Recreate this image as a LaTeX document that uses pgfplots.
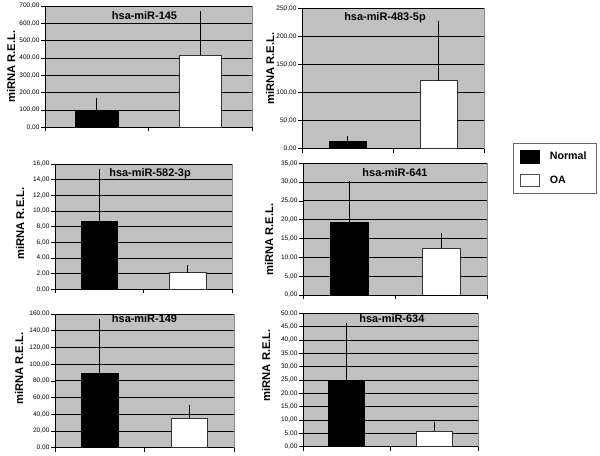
\documentclass[border=0pt]{standalone}
\usepackage{fontspec}
\setmainfont{Liberation Sans}
\usepackage{pgfplots}
\pgfplotsset{compat=1.18}
\definecolor{plotgray}{RGB}{192,192,192}
\pgfplotsset{
  panel/.style={
    scale only axis,
    axis background/.style={fill=plotgray, draw=black!45},
    axis lines*=left,
    axis line style={-, black, line width=0.6pt},
    xmin=0.5, xmax=2.5, ymin=0,
    xtick={0.5,1.5,2.5}, xticklabels={},
    tick align=outside, major tick length=3pt,
    tick style={black, line width=0.5pt},
    ymajorgrids, grid style={black, line width=0.6pt},
    yticklabel style={font=\fontsize{4.9}{6}\selectfont, inner sep=1pt},
    /pgf/number format/.cd, fixed, fixed zerofill, precision=2, use comma, 1000 sep={}, assume math mode=true,
    /pgfplots/.cd,
    every axis y label/.style={at={(axis description cs:0,0.5)}, rotate=90, anchor=center,
      font=\bfseries\fontsize{8.4}{10}\selectfont},
    every axis title/.style={at={(axis description cs:0.5,1)}, anchor=center,
      font=\bfseries\fontsize{8.2}{10}\selectfont},
    ylabel={miRNA R.E.L.},
  },
  nbar/.style={ybar, bar width=0.41, bar shift=0pt, fill=black, draw=black, line width=0.5pt,
    error bars/.cd, y dir=plus, y explicit, error mark=-,
    error bar style={black, line width=0.5pt}, error mark options={black, mark size=1.6pt, line width=0.5pt},
    /pgfplots/.cd},
  obar/.style={ybar, bar width=0.41, bar shift=0pt, fill=white, draw=black!80, line width=0.5pt,
    error bars/.cd, y dir=plus, y explicit, error mark=-,
    error bar style={black, line width=0.5pt}, error mark options={black, mark size=1.6pt, line width=0.5pt},
    /pgfplots/.cd},
}
\begin{document}
\begin{tikzpicture}
\useasboundingbox (0,0) rectangle (450pt,342pt);
% Panel 1
\begin{axis}[panel, at={(33.75pt,246.5pt)}, anchor=south west, width=155.25pt, height=91pt,
  ymax=700, ytick distance=100,
  title={hsa-miR-145}, title style={yshift=-7.5pt, xshift=-3pt},
  ylabel style={yshift=25.5pt}]
\addplot[nbar] coordinates {(1,100) +- (0,57)};
\addplot[obar] coordinates {(2,417) +- (0,241)};
\end{axis}
% Panel 2
\begin{axis}[panel, at={(226.5pt,230.5pt)}, anchor=south west, width=136.5pt, height=105pt,
  ymax=250, ytick distance=50,
  title={hsa-miR-483-5p}, title style={yshift=-7pt, xshift=-6pt},
  ylabel style={yshift=24pt, xshift=7.5pt}]
\addplot[nbar] coordinates {(1,12.5) +- (0,7)};
\addplot[obar] coordinates {(2,121.5) +- (0,103.5)};
\end{axis}
% Panel 3
\begin{axis}[panel, at={(41.25pt,125pt)}, anchor=south west, width=132.75pt, height=94pt,
  ymax=16, ytick distance=2,
  title={hsa-miR-582-3p}, title style={yshift=-7.5pt, xshift=4.9pt},
  ylabel style={yshift=26.25pt, xshift=2.4pt}]
\addplot[nbar] coordinates {(1,8.63) +- (0,6.52)};
\addplot[obar] coordinates {(2,2.12) +- (0,0.7)};
\end{axis}
% Panel 4
\begin{axis}[panel, at={(227.25pt,120.75pt)}, anchor=south west, width=138pt, height=98.8pt,
  ymax=35, ytick distance=5,
  title={hsa-miR-641}, title style={yshift=-7pt},
  ylabel style={yshift=25.5pt, xshift=-8pt},
  legend style={at={(axis description cs:1.141,1.154)}, anchor=north west,
    draw=black!60, fill=white, font=\bfseries\fontsize{8}{9.6}\selectfont,
    row sep=6.5pt, inner xsep=5pt, inner ysep=4.5pt,
    /tikz/every even column/.append style={column sep=3pt},
    /tikz/every odd column/.append style={column sep=6pt}},
  legend cell align=left]
\addplot[legend image code/.code={\draw[fill=black, draw=black] (0pt,-5pt) rectangle (14pt,5pt);}, nbar] coordinates {(1,19.2) +- (0,10.5)};
\addlegendentry{Normal}
\addplot[legend image code/.code={\draw[fill=white, draw=black!70] (0pt,-4.5pt) rectangle (14pt,4.5pt);}, obar] coordinates {(2,12.4) +- (0,3.6)};
\addlegendentry{OA}
\end{axis}
% Panel 5
\begin{axis}[panel, at={(41.25pt,6.2pt)}, anchor=south west, width=134.25pt, height=100.3pt,
  ymax=160, ytick distance=20,
  title={hsa-miR-149}, title style={yshift=-3.75pt},
  ylabel style={yshift=27pt, xshift=9pt}]
\addplot[nbar] coordinates {(1,89.5) +- (0,61.5)};
\addplot[obar] coordinates {(2,35.2) +- (0,13)};
\end{axis}
% Panel 6
\begin{axis}[panel, at={(227.25pt,7pt)}, anchor=south west, width=131.25pt, height=100pt,
  ymax=50, ytick distance=5,
  title={hsa-miR-634}, title style={yshift=-4.3pt, xshift=1pt},
  ylabel style={yshift=27.75pt, xshift=11pt}]
\addplot[nbar] coordinates {(1,24.4) +- (0,21.2)};
\addplot[obar] coordinates {(2,5.9) +- (0,2.4)};
\end{axis}
\end{tikzpicture}
\end{document}
